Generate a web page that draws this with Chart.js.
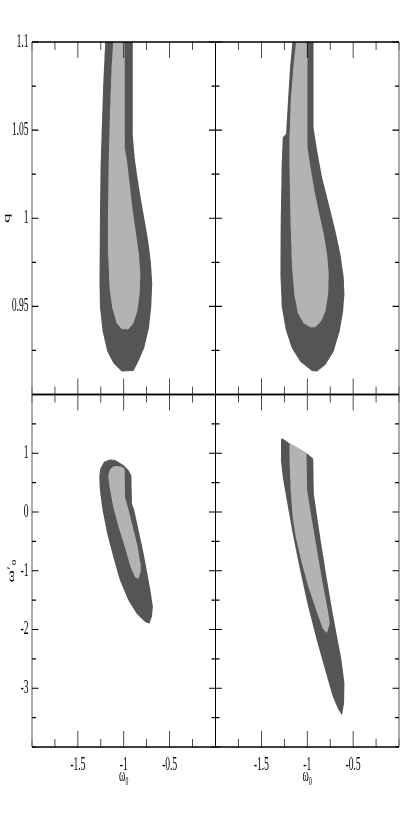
<!DOCTYPE html>
<html>
<head>
<meta charset="utf-8">
<script src="https://cdn.jsdelivr.net/npm/chart.js@4"></script>
<style>
  html, body { margin: 0; padding: 0; background: #fff; }
  #contours { position: absolute; left: 0; top: 0; }
</style>
</head>
<body>
<!-- drawn at double width and squeezed back, like the narrow original -->
<canvas id="contours" width="830" height="830" style="width:415px;height:830px"></canvas>
<script>
// tick labels
const w0Ticks = [-1.5, -1, -0.5];
const qTicks = [0.95, 1, 1.05, 1.1];
const wpTicks = [-3, -2, -1, 0, 1];

// omega_0 vs q, left panel (2 sigma / 1 sigma)
const qLeftOuter = [[-1.199,1.1],[-0.906,1.1],[-0.906,1.0477],[-0.884,1.0345],[-0.859,1.025],[-0.822,1.0127],[-0.779,1.0],[-0.736,0.987],[-0.707,0.975],[-0.692,0.9625],[-0.703,0.9498],[-0.728,0.9379],[-0.779,0.9265],[-0.841,0.919],[-0.895,0.9136],[-1.022,0.9133],[-1.112,0.918],[-1.178,0.9246],[-1.228,0.936],[-1.257,0.9498],[-1.261,0.9644],[-1.257,1.0],[-1.25,1.0288],[-1.239,1.0477],[-1.221,1.076],[-1.199,1.1]];
const qLeftInner = [[-1.112,1.1],[-0.996,1.1],[-0.993,1.0402],[-0.967,1.0326],[-0.942,1.0212],[-0.909,1.0061],[-0.873,0.9928],[-0.837,0.9795],[-0.822,0.9682],[-0.83,0.9568],[-0.855,0.9473],[-0.895,0.9407],[-0.949,0.9373],[-1.022,0.9373],[-1.076,0.9407],[-1.123,0.9492],[-1.152,0.9606],[-1.167,0.9795],[-1.17,1.0],[-1.163,1.0288],[-1.149,1.0572],[-1.13,1.0856],[-1.112,1.1]];

// omega_0 vs q, right panel
const qRightOuter = [[-1.159,1.1],[-0.935,1.1],[-0.935,1.0515],[-0.895,1.0383],[-0.841,1.0231],[-0.768,1.008],[-0.696,0.9928],[-0.641,0.9795],[-0.605,0.9663],[-0.598,0.9568],[-0.612,0.9473],[-0.649,0.936],[-0.714,0.9246],[-0.804,0.917],[-0.895,0.9133],[-0.949,0.9136],[-1.076,0.9189],[-1.167,0.9265],[-1.232,0.9369],[-1.275,0.9498],[-1.29,0.9682],[-1.286,1.0],[-1.275,1.0326],[-1.264,1.0458],[-1.228,1.0477],[-1.207,1.0667],[-1.185,1.0856],[-1.159,1.1]];
const qRightInner = [[-1.12,1.1],[-1.0,1.1],[-1.0,1.0402],[-0.967,1.0288],[-0.924,1.0155],[-0.87,1.0023],[-0.822,0.9909],[-0.786,0.9795],[-0.768,0.9682],[-0.775,0.9568],[-0.804,0.9473],[-0.851,0.9417],[-0.913,0.9384],[-0.967,0.9384],[-1.04,0.9407],[-1.101,0.9464],[-1.138,0.9568],[-1.163,0.972],[-1.181,1.0],[-1.192,1.0326],[-1.192,1.0439],[-1.178,1.0667],[-1.149,1.0856],[-1.12,1.1]];

// omega_0 vs omega'_0, left panel
const wpLeftOuter = [[-1.149,0.887],[-1.094,0.876],[-1.004,0.791],[-0.949,0.706],[-0.92,0.621],[-0.913,0.141],[-0.888,0.028],[-0.841,-0.311],[-0.786,-0.706],[-0.739,-1.102],[-0.707,-1.384],[-0.685,-1.61],[-0.696,-1.78],[-0.721,-1.893],[-0.768,-1.864],[-0.859,-1.723],[-0.949,-1.497],[-1.04,-1.158],[-1.112,-0.763],[-1.178,-0.367],[-1.228,0.028],[-1.257,0.367],[-1.264,0.593],[-1.254,0.734],[-1.214,0.847],[-1.149,0.887]];
const wpLeftInner = [[-1.076,0.774],[-1.022,0.763],[-0.993,0.729],[-0.989,0.254],[-0.949,0.028],[-0.895,-0.311],[-0.851,-0.593],[-0.822,-0.876],[-0.819,-1.017],[-0.841,-1.13],[-0.877,-1.102],[-0.924,-0.932],[-0.986,-0.593],[-1.054,-0.254],[-1.112,0.085],[-1.152,0.424],[-1.167,0.621],[-1.149,0.718],[-1.112,0.768],[-1.076,0.774]];

// omega_0 vs omega'_0, right panel
const wpRightOuter = [[-1.283,1.243],[-1.257,1.232],[-1.203,1.169],[-1.076,1.056],[-1.004,0.989],[-0.938,0.904],[-0.931,0.311],[-0.895,-0.085],[-0.851,-0.537],[-0.793,-1.102],[-0.732,-1.667],[-0.678,-2.119],[-0.63,-2.514],[-0.598,-2.91],[-0.601,-3.249],[-0.623,-3.446],[-0.659,-3.362],[-0.721,-3.136],[-0.793,-2.74],[-0.895,-2.175],[-0.996,-1.554],[-1.083,-0.932],[-1.156,-0.367],[-1.214,0.141],[-1.264,0.593],[-1.286,0.904],[-1.283,1.243]];
const wpRightInner = [[-1.192,1.158],[-1.13,1.113],[-1.076,1.056],[-1.011,1.0],[-1.004,0.367],[-0.957,-0.085],[-0.902,-0.593],[-0.841,-1.158],[-0.779,-1.667],[-0.757,-1.893],[-0.786,-2.051],[-0.83,-1.977],[-0.895,-1.695],[-0.986,-1.271],[-1.065,-0.819],[-1.123,-0.424],[-1.156,-0.085],[-1.178,0.367],[-1.188,0.763],[-1.192,1.158]];

const darkGrey = '#555555';
const lightGrey = '#b3b3b3';
const serif = { family: '"Liberation Serif", "Times New Roman", serif', size: 19 };

function region(points, xAxis, yAxis, color, order) {
  return {
    data: points.map(p => ({ x: p[0], y: p[1] })),
    xAxisID: xAxis,
    yAxisID: yAxis,
    showLine: true,
    fill: 'shape',
    backgroundColor: color,
    borderColor: color,
    borderWidth: 1,
    pointRadius: 0,
    tension: 0,
    order: order
  };
}

function majorOnly(list) {
  return v => {
    const hit = list.find(m => Math.abs(m - v) < 1e-9);
    return hit === undefined ? '' : String(hit);
  };
}

// inward ticks on every side of every panel, plus the frames
const panelFrame = {
  id: 'panelFrame',
  afterDatasetsDraw(chart) {
    const ctx = chart.ctx;
    const cols = [chart.scales.xL, chart.scales.xR];
    const rows = [chart.scales.yT, chart.scales.yB];
    ctx.save();
    ctx.strokeStyle = '#000';
    cols.forEach(xs => rows.forEach(ys => {
      const l = xs.left, r = xs.right, t = ys.top, b = ys.bottom;
      ctx.lineWidth = 1.4;
      xs.ticks.forEach(tk => {
        const px = xs.getPixelForValue(tk.value);
        const len = tk.label ? 16 : 8;
        ctx.beginPath();
        ctx.moveTo(px, t); ctx.lineTo(px, t + len);
        ctx.moveTo(px, b); ctx.lineTo(px, b - len);
        ctx.stroke();
      });
      ctx.lineWidth = 1.2;
      ys.ticks.forEach(tk => {
        const py = ys.getPixelForValue(tk.value);
        const len = tk.label ? 13 : 8;
        ctx.beginPath();
        ctx.moveTo(l, py); ctx.lineTo(l + len, py);
        ctx.moveTo(r, py); ctx.lineTo(r - len, py);
        ctx.stroke();
      });
      ctx.lineWidth = 1.4;
      ctx.beginPath();
      ctx.moveTo(l, t); ctx.lineTo(r, t);
      ctx.moveTo(l, b); ctx.lineTo(r, b);
      ctx.stroke();
      ctx.lineWidth = 1.3;
      ctx.beginPath();
      ctx.moveTo(l, t); ctx.lineTo(l, b);
      ctx.moveTo(r, t); ctx.lineTo(r, b);
      ctx.stroke();
    }));
    // shared middle divider is darker
    ctx.lineWidth = 2;
    ctx.beginPath();
    ctx.moveTo(chart.scales.xR.left, chart.scales.yT.top);
    ctx.lineTo(chart.scales.xR.left, chart.scales.yB.bottom);
    ctx.stroke();
    ctx.restore();
  }
};

function xScale(weight) {
  return {
    type: 'linear', position: 'bottom', stack: 'cols', weight: weight,
    min: -2, max: 0,
    ticks: { stepSize: 0.25, autoSkip: false, maxRotation: 0, padding: 7, color: '#000', font: serif, callback: majorOnly(w0Ticks) },
    grid: { display: false, drawTicks: false },
    border: { display: false },
    title: { display: true, text: 'ω₀', color: '#000', font: serif, padding: { top: 0, bottom: 43 } },
    afterFit: s => { s.height = 83; }
  };
}

new Chart(document.getElementById('contours'), {
  type: 'scatter',
  data: {
    datasets: [
      region(qLeftInner, 'xL', 'yT', lightGrey, 0),
      region(qRightInner, 'xR', 'yT', lightGrey, 0),
      region(wpLeftInner, 'xL', 'yB', lightGrey, 0),
      region(wpRightInner, 'xR', 'yB', lightGrey, 0),
      region(qLeftOuter, 'xL', 'yT', darkGrey, 1),
      region(qRightOuter, 'xR', 'yT', darkGrey, 1),
      region(wpLeftOuter, 'xL', 'yB', darkGrey, 1),
      region(wpRightOuter, 'xR', 'yB', darkGrey, 1)
    ]
  },
  options: {
    responsive: false,
    devicePixelRatio: 1,
    animation: false,
    layout: { padding: { left: 0, top: 42, right: 32, bottom: 0 } },
    plugins: { legend: { display: false }, tooltip: { enabled: false } },
    scales: {
      yT: {
        type: 'linear', position: 'left', stack: 'rows', weight: 1,
        min: 0.9, max: 1.1,
        ticks: { stepSize: 0.025, autoSkip: false, padding: 7, color: '#000', font: serif, callback: majorOnly(qTicks) },
        grid: { display: false, drawTicks: false },
        border: { display: false },
        title: { display: true, text: 'q', color: '#000', font: serif, padding: { top: 3, bottom: 0 } },
        afterFit: s => { s.width = 64; }
      },
      yB: {
        type: 'linear', position: 'left', stack: 'rows', weight: 0,
        min: -4, max: 2,
        ticks: { stepSize: 0.5, autoSkip: false, padding: 7, color: '#000', font: serif, callback: majorOnly(wpTicks) },
        grid: { display: false, drawTicks: false },
        border: { display: false },
        title: { display: true, text: 'ω′₀', color: '#000', font: serif, padding: { top: 12, bottom: 0 } },
        afterFit: s => { s.width = 64; }
      },
      xL: xScale(0),
      xR: xScale(0)
    }
  },
  plugins: [panelFrame]
});
</script>
</body>
</html>
